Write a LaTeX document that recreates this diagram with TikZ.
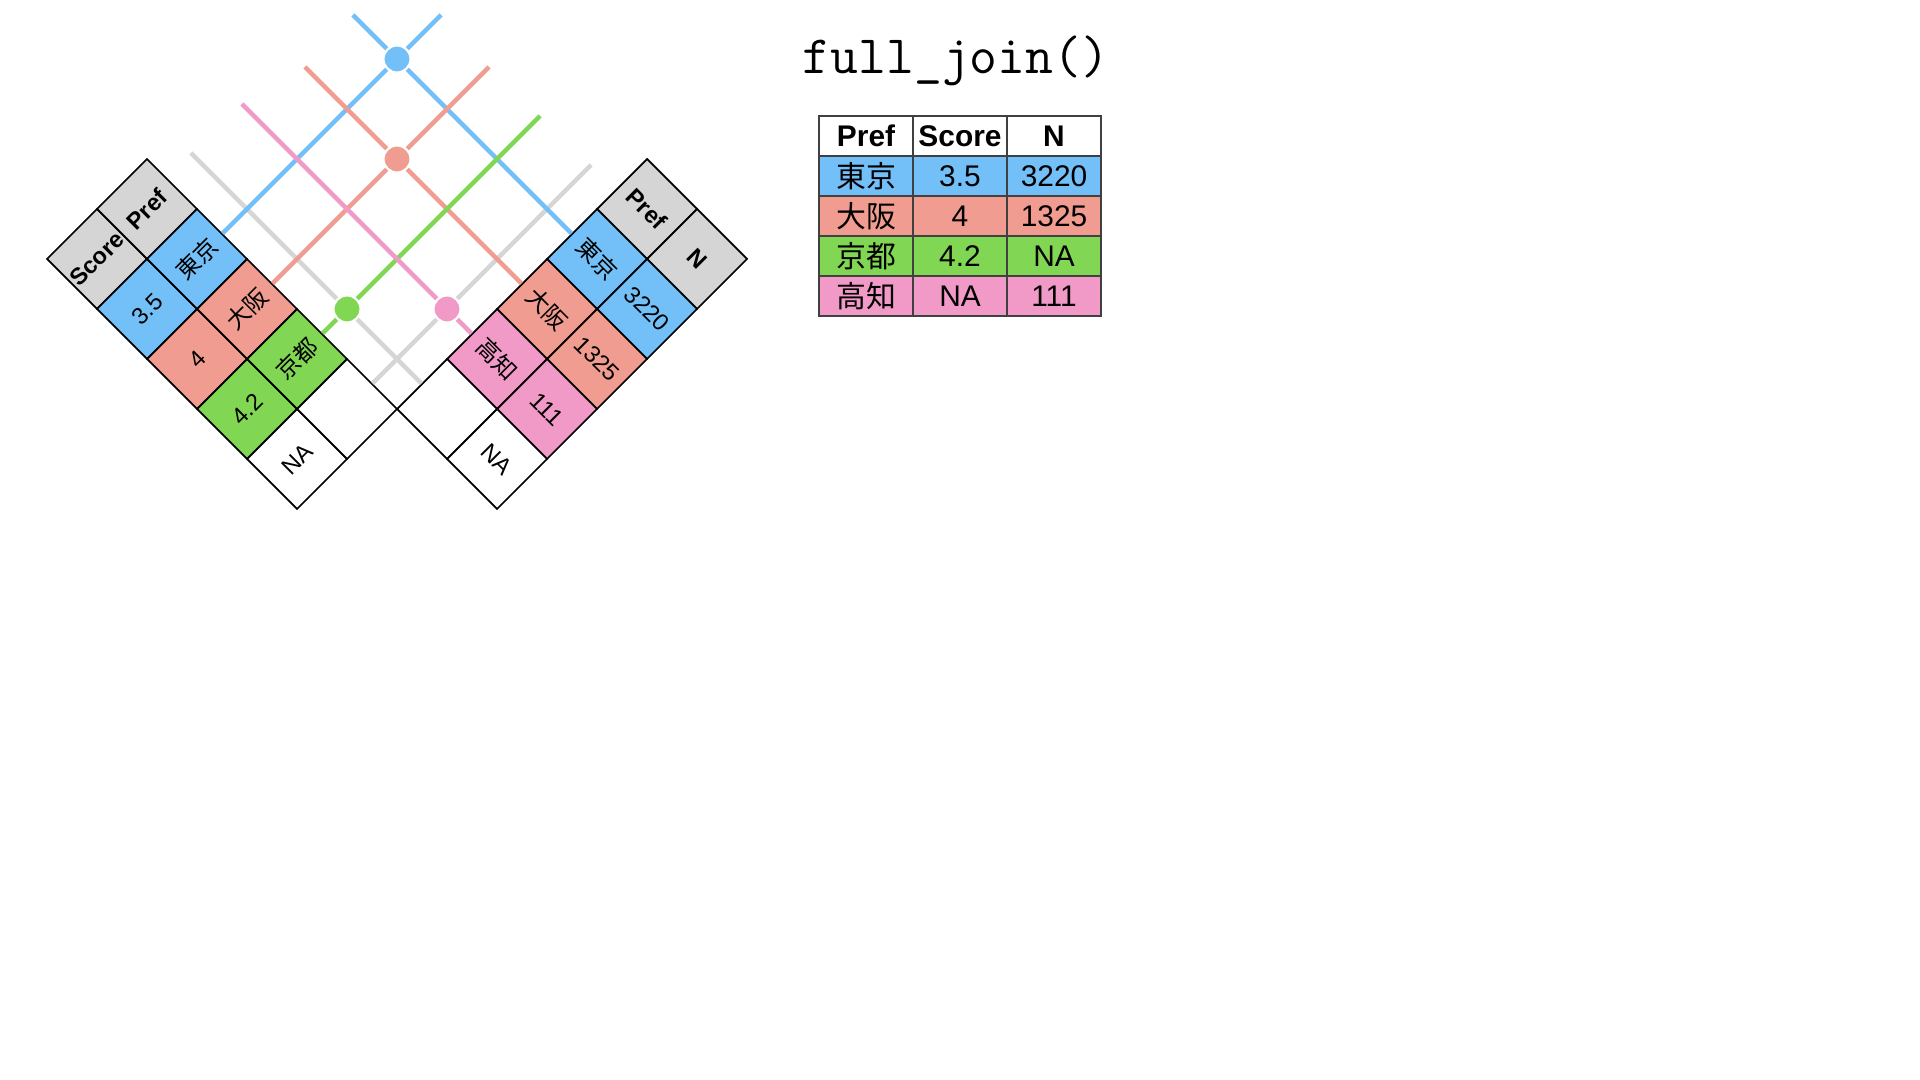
\documentclass[tikz,border=0pt]{standalone}
\usepackage{fontspec}
\setmainfont{Liberation Sans}
\newfontfamily\jp{Noto Sans CJK JP}
\usepackage{tikz}
\definecolor{cblue}{HTML}{73BFF8}
\definecolor{csalmon}{HTML}{F19C90}
\definecolor{cgreen}{HTML}{81D653}
\definecolor{cpink}{HTML}{F199C7}
\definecolor{cgray}{HTML}{D5D5D5}
\tikzstyle{cell}=[draw,rectangle,minimum width=0.707cm,minimum height=0.707cm,inner sep=0,line width=0.5pt,font=\fontsize{6.7}{7}\selectfont]
\tikzstyle{lcell}=[cell,rotate=45]
\tikzstyle{rcell}=[cell,rotate=-45]
\tikzstyle{hcell}=[fill=cgray,font=\fontsize{6.7}{7}\selectfont\bfseries]
\tikzstyle{tcell}=[draw=black!75,rectangle,minimum width=0.94cm,minimum height=0.40cm,inner sep=0,line width=0.35pt,font=\fontsize{8.5}{9}\selectfont]
\tikzstyle{link}=[line width=1.3pt]
\tikzstyle{dot}=[circle,draw=white,line width=0.6pt,minimum size=0.27cm,inner sep=0]

\begin{document}
\begin{tikzpicture}
\path[use as bounding box,fill=white] (0,0) rectangle (19.2,-10.8);

% % % Left table
	\node[lcell,hcell] (l0s) at (0.97,-2.59) {Score};
	\node[lcell,hcell] (l0p) at (1.47,-2.09) {Pref};
	\node[lcell,fill=cblue] (l1s) at (1.47,-3.09) {3.5};
	\node[lcell,fill=cblue] (l1p) at (1.97,-2.59) {\jp 東京};
	\node[lcell,fill=csalmon] (l2s) at (1.97,-3.59) {4};
	\node[lcell,fill=csalmon] (l2p) at (2.47,-3.09) {\jp 大阪};
	\node[lcell,fill=cgreen] (l3s) at (2.47,-4.09) {4.2};
	\node[lcell,fill=cgreen] (l3p) at (2.97,-3.59) {\jp 京都};
	\node[lcell,fill=white] (l4s) at (2.97,-4.59) {NA};
	\node[lcell,fill=white] (l4p) at (3.47,-4.09) {};

% % % Right table
	\node[rcell,hcell] (r0p) at (6.47,-2.09) {Pref};
	\node[rcell,hcell] (r0n) at (6.97,-2.59) {N};
	\node[rcell,fill=cblue] (r1p) at (5.97,-2.59) {\jp 東京};
	\node[rcell,fill=cblue] (r1n) at (6.47,-3.09) {3220};
	\node[rcell,fill=csalmon] (r2p) at (5.47,-3.09) {\jp 大阪};
	\node[rcell,fill=csalmon] (r2n) at (5.97,-3.59) {1325};
	\node[rcell,fill=cpink] (r3p) at (4.97,-3.59) {\jp 高知};
	\node[rcell,fill=cpink] (r3n) at (5.47,-4.09) {111};
	\node[rcell,fill=white] (r4p) at (4.47,-4.09) {};
	\node[rcell,fill=white] (r4n) at (4.97,-4.59) {NA};

% % % Matches
	\node[dot,fill=cblue] (mb) at (3.97,-0.59) {};
	\node[dot,fill=csalmon] (ms) at (3.97,-1.59) {};
	\node[dot,fill=cgreen] (mg) at (3.47,-3.09) {};
	\node[dot,fill=cpink] (mp) at (4.47,-3.09) {};

	\coordinate (bl) at (4.41,-0.15);
	\coordinate (br) at (3.53,-0.15);
	\coordinate (sl) at (4.89,-0.67);
	\coordinate (sr) at (3.05,-0.67);
	\coordinate (gl) at (5.40,-1.16);
	\coordinate (pr) at (2.42,-1.04);
	\coordinate (yl) at (5.91,-1.65);
	\coordinate (yr) at (1.91,-1.53);

	\path[draw,link,cgray] (l4p) -- (mp) -- (yl);
	\path[draw,link,cgray] (r4p) -- (mg) -- (yr);

	\path[draw,link,cblue] (l1p) -- (mb) -- (bl);
	\path[draw,link,cblue] (r1p) -- (mb) -- (br);

	\path[draw,link,csalmon] (l2p) -- (ms) -- (sl);
	\path[draw,link,csalmon] (r2p) -- (ms) -- (sr);

	\path[draw,link,cgreen] (l3p) -- (mg) -- (gl);
	\path[draw,link,cpink] (r3p) -- (mp) -- (pr);

% % % Result
	\node[anchor=base,font=\ttfamily\fontsize{15.4}{16}\selectfont] (title) at (9.56,-0.74) {full\_join()};

	\node[tcell,font=\fontsize{8.5}{9}\selectfont\bfseries] (t0p) at (8.66,-1.36) {Pref};
	\node[tcell,font=\fontsize{8.5}{9}\selectfont\bfseries] (t0s) at (9.60,-1.36) {Score};
	\node[tcell,font=\fontsize{8.5}{9}\selectfont\bfseries] (t0n) at (10.54,-1.36) {N};

	\node[tcell,fill=cblue] (t1p) at (8.66,-1.76) {\jp 東京};
	\node[tcell,fill=cblue] (t1s) at (9.60,-1.76) {3.5};
	\node[tcell,fill=cblue] (t1n) at (10.54,-1.76) {3220};

	\node[tcell,fill=csalmon] (t2p) at (8.66,-2.16) {\jp 大阪};
	\node[tcell,fill=csalmon] (t2s) at (9.60,-2.16) {4};
	\node[tcell,fill=csalmon] (t2n) at (10.54,-2.16) {1325};

	\node[tcell,fill=cgreen] (t3p) at (8.66,-2.56) {\jp 京都};
	\node[tcell,fill=cgreen] (t3s) at (9.60,-2.56) {4.2};
	\node[tcell,fill=cgreen] (t3n) at (10.54,-2.56) {NA};

	\node[tcell,fill=cpink] (t4p) at (8.66,-2.96) {\jp 高知};
	\node[tcell,fill=cpink] (t4s) at (9.60,-2.96) {NA};
	\node[tcell,fill=cpink] (t4n) at (10.54,-2.96) {111};

\end{tikzpicture}
\end{document}
